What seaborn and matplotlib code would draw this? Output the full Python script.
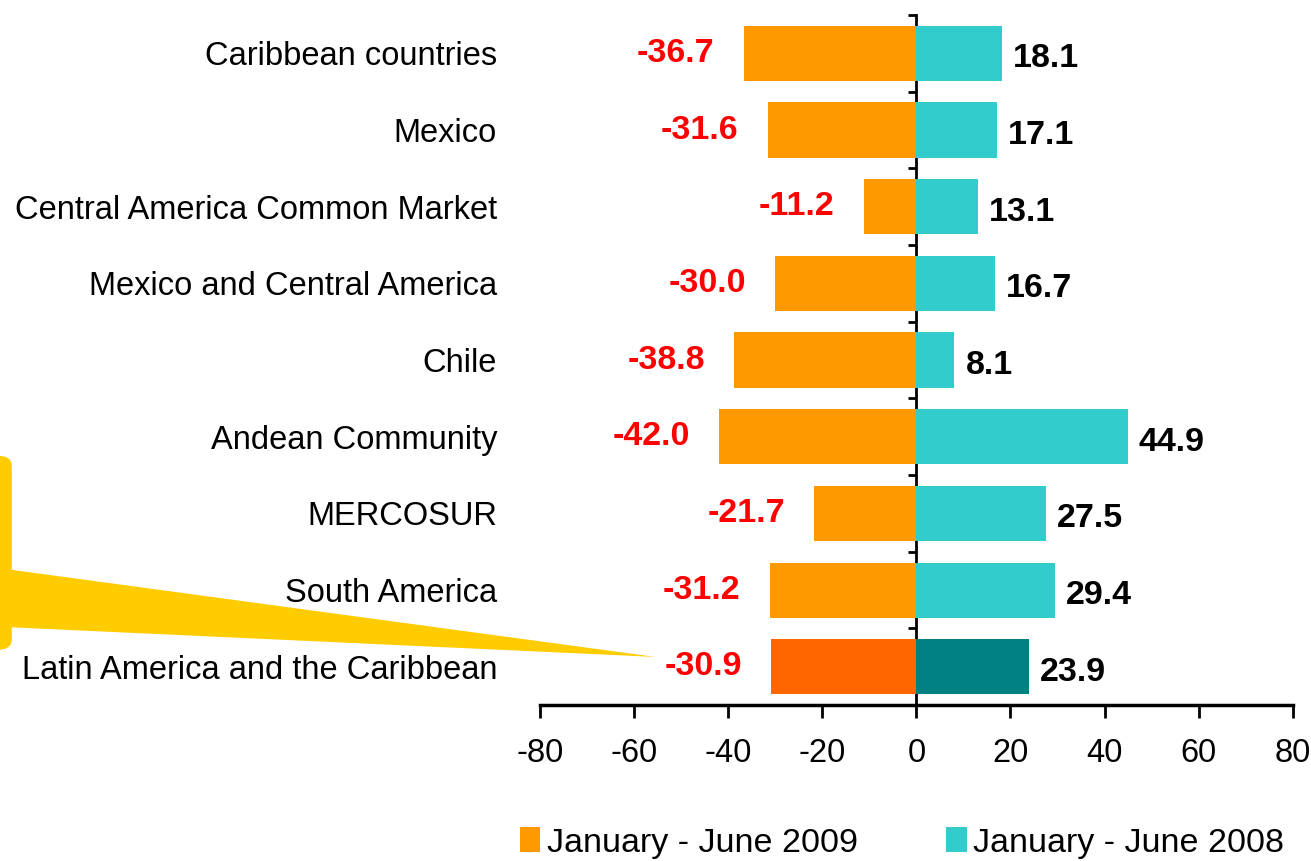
import matplotlib
matplotlib.use("Agg")
import matplotlib.pyplot as plt
import seaborn as sns
import pandas as pd
import numpy as np
from matplotlib.patches import Patch, FancyBboxPatch, Polygon

regions = ["Caribbean countries", "Mexico", "Central America Common Market",
           "Mexico and Central America", "Chile", "Andean Community",
           "MERCOSUR", "South America", "Latin America and the Caribbean"]
v2009 = [-36.7, -31.6, -11.2, -30.0, -38.8, -42.0, -21.7, -31.2, -30.9]
v2008 = [18.1, 17.1, 13.1, 16.7, 8.1, 44.9, 27.5, 29.4, 23.9]
series_labels = ["January - June 2009", "January - June 2008"]
xticks = [-80, -60, -40, -20, 0, 20, 40, 60, 80]

df = pd.DataFrame({"region": regions, "v2009": v2009, "v2008": v2008})

sns.set_theme(style="white")
plt.rcParams["font.family"] = ["Liberation Sans", "DejaVu Sans"]
plt.rcParams["text.color"] = "black"
plt.rcParams["xtick.color"] = "black"
plt.rcParams["ytick.color"] = "black"
plt.rcParams["axes.labelcolor"] = "black"

C09, C08 = "#FF9900", "#33CCCC"
C09d, C08d = "#FF6600", "#008080"

fig = plt.figure(figsize=(13.11, 8.61), dpi=100)
ax = fig.add_axes([0.412, 0.181, 0.574, 0.8016])

sns.barplot(data=df, x="v2009", y="region", color=C09, orient="h",
            width=0.72, saturation=1, ax=ax)
sns.barplot(data=df, x="v2008", y="region", color=C08, orient="h",
            width=0.72, saturation=1, ax=ax)
n = len(regions)
ax.patches[n - 1].set_facecolor(C09d)
ax.patches[2 * n - 1].set_facecolor(C08d)
for p in ax.patches:
    p.set_edgecolor("none")

left_lbls = ax.bar_label(ax.containers[0], labels=[f"{v:.1f}" for v in v2009],
                         padding=21, color="#FF0000", fontsize=24.5, fontweight="bold")
right_lbls = ax.bar_label(ax.containers[1], labels=[f"{v:.1f}" for v in v2008],
                          padding=8, color="black", fontsize=24.5, fontweight="bold")
for t in left_lbls:
    t.xyann = (-21, 0)
for t in right_lbls:
    t.xyann = (8, -4)

ax.set_xlim(-80, 80)
ax.set_ylim(n - 0.5, -0.5)
ax.set_xticks(xticks)
ax.set_xticklabels([str(t) for t in xticks])
ax.set_xlabel("")
ax.set_ylabel("")
for s in ["top", "right", "left"]:
    ax.spines[s].set_visible(False)
ax.spines["bottom"].set_color("black")
ax.spines["bottom"].set_linewidth(2.5)
ax.tick_params(axis="x", direction="out", length=9, width=2, color="black",
               pad=15, labelsize=23.5, bottom=True, labelcolor="black")
ax.tick_params(axis="y", length=0, pad=31, labelsize=23.5, left=False, labelcolor="black")

secy = ax.secondary_yaxis(0.5)
secy.set_yticks(np.arange(-0.5, n - 0.5, 1.0))
secy.tick_params(axis="y", direction="out", length=6, width=2, color="black",
                 labelleft=False, labelright=False, left=True, right=False)
for s in secy.spines.values():
    s.set_linewidth(2)
    s.set_color("black")

handles = [Patch(facecolor=C09, edgecolor="none"), Patch(facecolor=C08, edgecolor="none")]
fig.legend(handles, series_labels, loc="center", bbox_to_anchor=(0.688, 0.021),
           ncol=2, frameon=False, fontsize=24.5, handlelength=0.6, handleheight=0.75,
           handletextpad=0.2, columnspacing=2.6, borderaxespad=0)

# callout decoration
yellow = "#FFCC00"
box = FancyBboxPatch((-0.05, 0.245), 0.059, 0.226, boxstyle="round,pad=0,rounding_size=0.012",
                     transform=fig.transFigure, facecolor=yellow, edgecolor="none", zorder=0)
fig.patches.append(box)
tri = Polygon([(0.0, 0.340), (0.0, 0.272), (0.50, 0.237)], closed=True,
              transform=fig.transFigure, facecolor=yellow, edgecolor="none", zorder=0)
fig.patches.append(tri)

fig.savefig("out.png", dpi=100)
